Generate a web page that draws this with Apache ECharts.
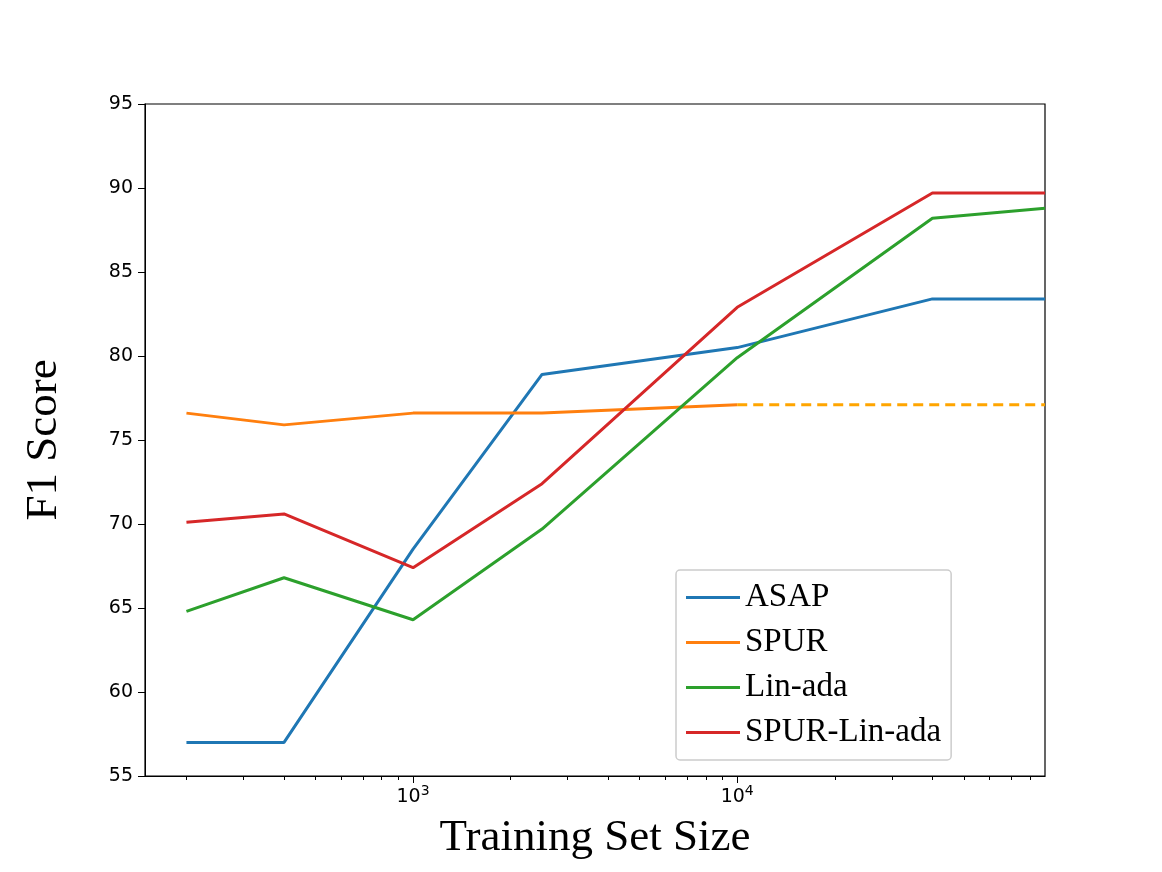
<!DOCTYPE html>
<html lang="en">
  <head>
    <meta charset="UTF-8" />
    <title>F1 Score</title>
    <script src="https://cdn.jsdelivr.net/npm/echarts@6.0.0/dist/echarts.min.js"></script>
  </head>
  <body style="margin:0">
    <div id="main" style="width: 1162px; height: 872px"></div>
    <script type="text/javascript">
      const sizes = [200, 400, 1000, 2500, 10000, 40000, 89000];
      const asap = [57.0, 57.0, 68.5, 78.9, 80.5, 83.4, 83.4];
      const spur = [76.6, 75.9, 76.6, 76.6, 77.1, null, null];
      const spurDashed = [null, null, null, null, 77.1, 77.1, 77.1];
      const linAda = [64.8, 66.8, 64.3, 69.7, 79.9, 88.2, 88.8];
      const spurLinAda = [70.1, 70.6, 67.4, 72.4, 82.9, 89.7, 89.7];
      const majorTicks = [1000, 10000];
      const minorTicks = [200, 300, 400, 500, 600, 700, 800, 900,
        2000, 3000, 4000, 5000, 6000, 7000, 8000, 9000,
        20000, 30000, 40000, 50000, 60000, 70000, 80000];

      const pairs = (vals) => sizes.map((s, i) => [s, vals[i]]).filter(p => p[1] !== null);

      let myChart = echarts.init(document.getElementById('main'));
      const serif = 'Liberation Serif';
      const xBase = { type: 'log', min: 149, max: 89000, splitLine: { show: false } };

      let options = {
        animation: false,
        grid: { left: 145, right: 117, top: 104, bottom: 96, show: true, borderColor: '#000', borderWidth: 1.2 },
        xAxis: [
          Object.assign({}, xBase, {
            axisLine: { lineStyle: { color: '#000' } },
            axisTick: { length: 7, customValues: majorTicks, lineStyle: { color: '#000' } },
            axisLabel: {
              customValues: majorTicks, color: '#000', fontFamily: 'DejaVu Sans', fontSize: 19, margin: 8,
              formatter: v => '10{sup|' + Math.round(Math.log10(v)) + '}',
              rich: { sup: { fontSize: 14, verticalAlign: 'top', padding: [0, 0, 12, 0], color: '#000', fontFamily: 'DejaVu Sans' } }
            },
            name: 'Training Set Size', nameLocation: 'middle', nameGap: 40,
            nameTextStyle: { fontFamily: serif, fontSize: 45, color: '#000' }
          }),
          Object.assign({}, xBase, {
            position: 'bottom',
            axisLine: { show: false },
            axisTick: { length: 4, customValues: minorTicks, lineStyle: { color: '#000' } },
            axisLabel: { show: false }
          })
        ],
        yAxis: {
          type: 'value', min: 55, max: 95, interval: 5,
          splitLine: { show: false },
          axisLine: { show: true, lineStyle: { color: '#000' } },
          axisTick: { show: true, length: 7, lineStyle: { color: '#000' } },
          axisLabel: { color: '#000', fontFamily: 'DejaVu Sans', fontSize: 19, margin: 12 },
          name: 'F1 Score', nameLocation: 'middle', nameGap: 78,
          nameTextStyle: { fontFamily: serif, fontSize: 45, color: '#000' }
        },
        legend: {
          data: ['ASAP', 'SPUR', 'Lin-ada', 'SPUR-Lin-ada'],
          orient: 'vertical', left: 676, top: 570,
          padding: [11, 10, 11, 10], itemGap: 12,
          borderColor: '#ccc', borderWidth: 1.5, borderRadius: 4,
          backgroundColor: 'rgba(255,255,255,0.8)',
          itemWidth: 54, itemHeight: 3, icon: 'rect',
          textStyle: { fontFamily: serif, fontSize: 33, color: '#000' }
        },
        series: [
          { name: 'ASAP', type: 'line', data: pairs(asap), color: '#1f77b4' },
          { name: 'SPUR', type: 'line', data: pairs(spur), color: '#ff7f0e' },
          { name: 'SPUR dashed', type: 'line', data: pairs(spurDashed), color: '#ffa500', lineStyle: { type: [10, 6] } },
          { name: 'Lin-ada', type: 'line', data: pairs(linAda), color: '#2ca02c' },
          { name: 'SPUR-Lin-ada', type: 'line', data: pairs(spurLinAda), color: '#d62728' }
        ].map(s => Object.assign({ showSymbol: false, symbol: 'none', lineStyle: {} }, s, {
          lineStyle: Object.assign({ width: 3 }, s.lineStyle || {})
        }))
      };

      myChart.setOption(options);
    </script>
  </body>
</html>
